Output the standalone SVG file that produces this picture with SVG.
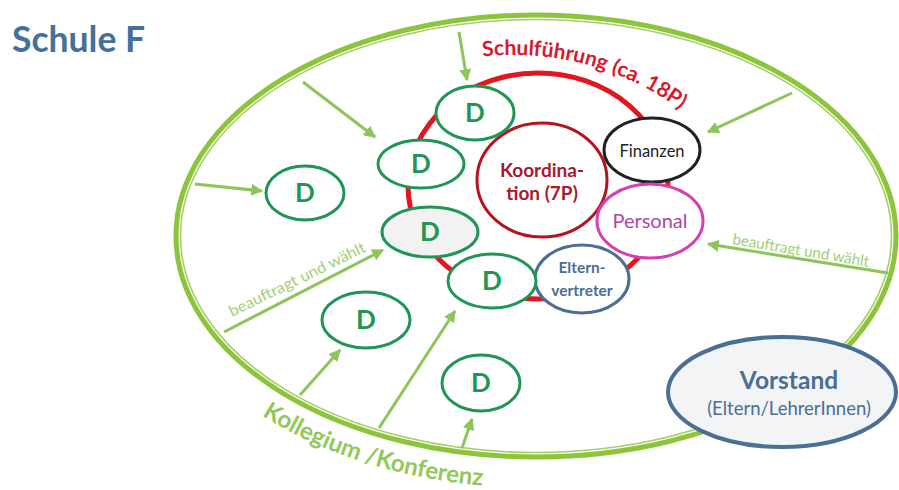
<svg xmlns="http://www.w3.org/2000/svg" width="899" height="490" viewBox="0 0 899 490">
<defs>
<marker id="ah" viewBox="0 0 10 10" refX="9" refY="5" markerWidth="4" markerHeight="4" orient="auto" markerUnits="strokeWidth">
<path d="M0,0 L10,5 L0,10 z" fill="#8dc55a"/>
</marker>
<path id="arcTop" d="M470,58.3 A283,283 0 0 1 700,125.2"/>
<path id="arcBottom" d="M262,415.5 A390,252 0 0 0 536,488"/>
</defs>
<style>
.d ellipse{fill:#fff;stroke:#1f9655;stroke-width:3}
.d text{font-family:Lato,"Liberation Sans",sans-serif;font-weight:700;font-size:26px;fill:#1f9655;text-anchor:middle}
.arr{stroke:#8dc55a;stroke-width:3;fill:none;marker-end:url(#ah)}
.lbl{font-family:Lato,"Liberation Sans",sans-serif;text-anchor:middle}
.sf{font-family:Lato,"Liberation Sans",sans-serif;font-weight:700;font-size:21px;fill:#d8172a}
</style>
<rect width="899" height="490" fill="#fff"/>
<text x="12" y="52" font-family="Lato,'Liberation Sans',sans-serif" font-weight="700" font-size="35.5" fill="#43709c">Schule F</text>

<g id="kollegium">
<ellipse cx="536" cy="236" rx="360" ry="221" fill="none" stroke="#8cc43c" stroke-width="5"/>
<ellipse cx="536" cy="236" rx="355.5" ry="216.5" fill="none" stroke="#a5d060" stroke-width="1.6"/>
<text font-family="Lato,'Liberation Sans',sans-serif" font-weight="700" font-size="24" fill="#92c85a"><textPath href="#arcBottom">Kollegium /Konferenz</textPath></text>
</g>

<g id="connectors">
<line class="arr" x1="459" y1="32" x2="467" y2="80"/>
<line class="arr" x1="303" y1="82" x2="375" y2="137"/>
<line class="arr" x1="195" y1="184" x2="262" y2="191"/>
<line class="arr" x1="792" y1="93" x2="708" y2="132"/>
<line class="arr" x1="888" y1="273" x2="708" y2="244"/>
<line class="arr" x1="224" y1="332" x2="383" y2="250"/>
<line class="arr" x1="300" y1="395" x2="340" y2="350"/>
<line class="arr" x1="379" y1="428" x2="455" y2="311"/>
<line class="arr" x1="462" y1="448" x2="472" y2="419"/>
<text transform="translate(232,317) rotate(-26)" font-family="Lato,'Liberation Sans',sans-serif" font-size="15.5" fill="#a2d074" textLength="150" lengthAdjust="spacingAndGlyphs">beauftragt und wählt</text>
<text transform="translate(732,244) rotate(9.5)" font-family="Lato,'Liberation Sans',sans-serif" font-size="15.5" fill="#a2d074" textLength="138" lengthAdjust="spacingAndGlyphs">beauftragt und wählt</text>
</g>

<g id="schulfuehrung">
<ellipse cx="538" cy="186" rx="130" ry="113" fill="none" stroke="#e3151f" stroke-width="5"/>
<text class="sf"><textPath href="#arcTop" startOffset="13">Schulführung</textPath></text>
<text class="sf"><textPath href="#arcTop" startOffset="143">(ca. 18P)</textPath></text>
</g>

<g id="koordination">
<ellipse cx="542" cy="180" rx="65" ry="57" fill="#fff" stroke="#b3141f" stroke-width="3"/>
<text class="lbl" x="542" y="177" font-weight="700" font-size="19" fill="#a8192e">Koordina-</text>
<text class="lbl" x="542" y="200" font-weight="700" font-size="19" fill="#a8192e">tion (7P)</text>
</g>

<g id="finanzen">
<ellipse cx="652" cy="150" rx="48" ry="32" fill="#fff" stroke="#222" stroke-width="3"/>
<text class="lbl" x="652" y="157" font-size="16.5" fill="#222">Finanzen</text>
</g>

<g id="personal">
<ellipse cx="650" cy="221" rx="53" ry="37" fill="#fff" stroke="#d63fb0" stroke-width="3"/>
<text class="lbl" x="650" y="228" font-size="20" fill="#b1479c">Personal</text>
</g>

<g id="elternvertreter">
<ellipse cx="582" cy="279" rx="47" ry="34" fill="#fff" stroke="#4a6e94" stroke-width="3"/>
<text class="lbl" x="582" y="273" font-size="15.5" font-weight="700" fill="#4a6e94">Eltern-</text>
<text class="lbl" x="582" y="296" font-size="15.5" font-weight="700" fill="#4a6e94">vertreter</text>
</g>

<g id="d1" class="d"><ellipse cx="475" cy="113" rx="39" ry="27"/><text x="475" y="122">D</text></g>
<g id="d2" class="d"><ellipse cx="421" cy="164" rx="43" ry="24"/><text x="421" y="173">D</text></g>
<g id="d3" class="d"><ellipse cx="305" cy="193" rx="39" ry="27"/><text x="305" y="202">D</text></g>
<g id="d4" class="d"><ellipse cx="430" cy="232" rx="48" ry="25" style="fill:#f2f2f2"/><text x="430" y="241">D</text></g>
<g id="d5" class="d"><ellipse cx="492" cy="281" rx="44" ry="27"/><text x="492" y="290">D</text></g>
<g id="d6" class="d"><ellipse cx="366" cy="320" rx="44" ry="28"/><text x="366" y="329">D</text></g>
<g id="d7" class="d"><ellipse cx="481" cy="383" rx="39" ry="28"/><text x="481" y="392">D</text></g>

<g id="vorstand">
<ellipse cx="782" cy="392" rx="114" ry="55" fill="#f3f4f6" stroke="#4a6e94" stroke-width="4"/>
<text class="lbl" x="789" y="389" font-weight="700" font-size="24.5" fill="#4a6e94">Vorstand</text>
<text class="lbl" x="789" y="415" font-size="18.5" fill="#4a6e94">(Eltern/LehrerInnen)</text>
</g>
</svg>
